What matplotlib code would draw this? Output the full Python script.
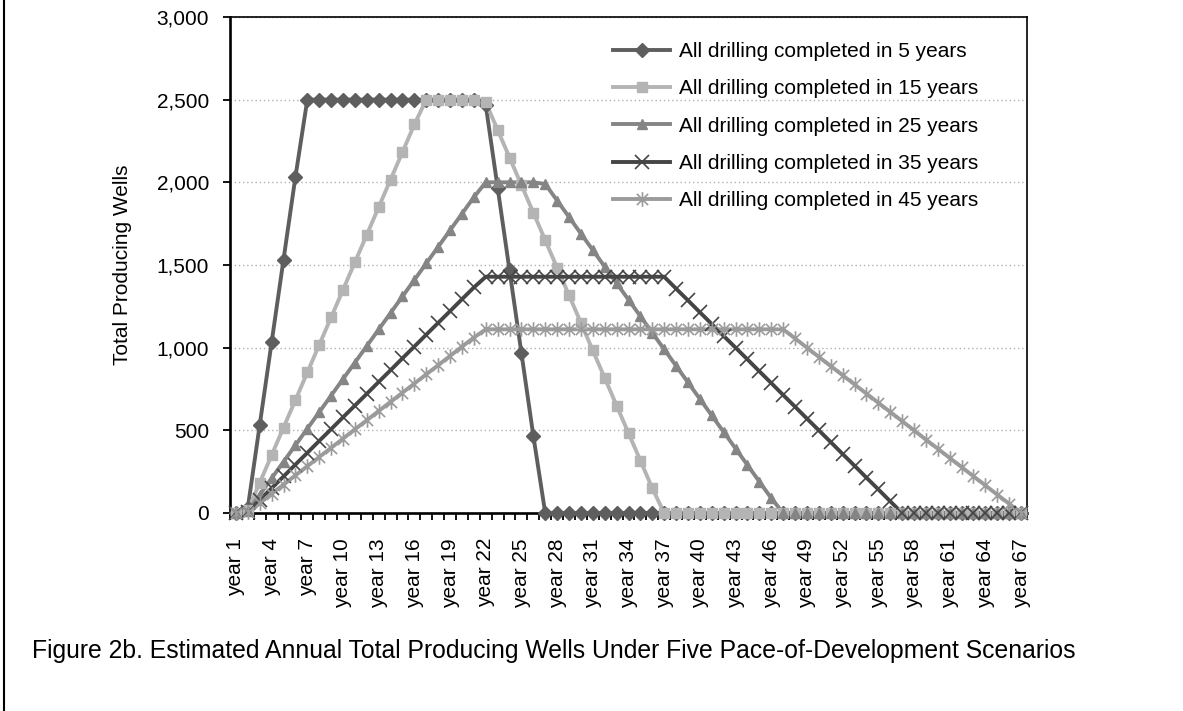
import matplotlib
matplotlib.use("Agg")
import matplotlib.pyplot as plt
from matplotlib.lines import Line2D
from matplotlib.path import Path
from matplotlib.ticker import FuncFormatter, FixedLocator

plt.rcParams['font.family'] = ['Liberation Sans', 'DejaVu Sans']

# data
years = ["year %d" % i for i in range(1, 68)]

five = [0, 33, 533, 1033, 1533, 2033] + [2500] * 15 + \
    [2467, 1967, 1467, 967, 467] + [0] * 41
fifteen = [0, 17, 183, 350, 517, 683, 850, 1017, 1183, 1350, 1517, 1683,
           1850, 2017, 2183, 2350] + [2500] * 5 + \
    [2483, 2317, 2150, 1983, 1817, 1650, 1483, 1317, 1150, 983, 817, 650,
     483, 317, 150] + [0] * 31
twentyfive = [0, 10, 110, 210, 310, 410, 510, 610, 710, 810, 910, 1010,
              1110, 1210, 1310, 1410, 1510, 1610, 1710, 1810, 1910] + \
    [2000] * 5 + \
    [1990, 1890, 1790, 1690, 1590, 1490, 1390, 1290, 1190, 1090, 990, 890,
     790, 690, 590, 490, 390, 290, 190, 90] + [0] * 21
thirtyfive = [0, 7, 79, 150, 221, 293, 364, 436, 507, 579, 650, 721, 793,
              864, 936, 1007, 1079, 1150, 1221, 1293, 1364] + [1429] * 16 + \
    [1357, 1286, 1214, 1143, 1071, 1000, 929, 857, 786, 714, 643, 571, 500,
     429, 357, 286, 214, 143, 71] + [0] * 11
fortyfive = [0, 6, 61, 117, 172, 228, 283, 339, 394, 450, 506, 561, 617,
             672, 728, 783, 839, 894, 950, 1006, 1061] + [1111] * 26 + \
    [1056, 1000, 944, 889, 833, 778, 722, 667, 611, 556, 500, 444, 389, 333,
     278, 222, 167, 111, 56] + [0]

labels = ["All drilling completed in 5 years",
          "All drilling completed in 15 years",
          "All drilling completed in 25 years",
          "All drilling completed in 35 years",
          "All drilling completed in 45 years"]

# excel style star: an x with a vertical stroke
star = Path([(-1, -1), (1, 1), (-1, 1), (1, -1), (0, -1.3), (0, 1.3)],
            [Path.MOVETO, Path.LINETO, Path.MOVETO, Path.LINETO,
             Path.MOVETO, Path.LINETO])

series = [five, fifteen, twentyfive, thirtyfive, fortyfive]
colors = ['#5e5e5e', '#b4b4b4', '#858585', '#454545', '#9b9b9b']
markers = ['D', 's', '^', 'x', star]
msizes = [7.4, 7.0, 7.8, 10.0, 10.5]
mew = [1, 1, 1, 1.2, 1.2]
filled = [True, True, True, False, False]

fig = plt.figure(figsize=(11.83, 7.11), dpi=100)
ax = fig.add_axes([230 / 1183, 1 - 513 / 711, 797 / 1183, 496 / 711])

x = list(range(len(years)))
# lines first, then markers on top (like excel does)
for s, c in zip(series, colors):
    ax.plot(x, s, color=c, lw=2.8, zorder=2, solid_joinstyle='round')
for s, c, m, ms, w, f in zip(series, colors, markers, msizes, mew, filled):
    ax.plot(x, s, ls='none', marker=m, ms=ms, mfc=c if f else 'none',
            mec=c, mew=w, zorder=3, clip_on=False)

ax.set_xlim(-0.5, len(years) - 0.5)
ax.set_ylim(0, 3000)

# y axis
ax.set_yticks(range(0, 3001, 500))
ax.yaxis.set_major_formatter(FuncFormatter(lambda v, p: "{:,.0f}".format(v)))
ax.tick_params(axis='y', direction='out', length=5, width=1.3, pad=10,
               labelsize=15)
ax.yaxis.grid(True, linestyle=(0, (1, 2)), color='#b0b0b0', lw=1)
ax.set_axisbelow(True)
ax.set_ylabel("Total Producing Wells", fontsize=15)
ax.yaxis.set_label_coords(-0.123, 0.5)

# x axis: tick marks between categories, labels every 3rd year
ax.xaxis.set_major_locator(FixedLocator([i - 0.5 for i in range(len(years) + 1)]))
ax.xaxis.set_major_formatter(FuncFormatter(lambda v, p: ""))
ax.xaxis.set_minor_locator(FixedLocator(x[::3]))
ax.set_xticklabels(years[::3], minor=True, rotation=90)
ax.tick_params(axis='x', which='major', direction='out', length=5, width=1.3)
ax.tick_params(axis='x', which='minor', length=0, pad=18, labelsize=15)

for side in ['left', 'bottom']:
    ax.spines[side].set_linewidth(1.9)
for side in ['top', 'right']:
    ax.spines[side].set_linewidth(1.2)

handles = [Line2D([], [], color=c, lw=2.8, marker=m, ms=ms,
                  mfc=c if f else 'none', mec=c, mew=w)
           for c, m, ms, w, f in zip(colors, markers, msizes, mew, filled)]
fig.legend(handles=handles, labels=labels, loc='upper left',
           bbox_to_anchor=(613 / 1183, 1 - 42 / 711), frameon=False,
           fontsize=15, handlelength=2.75, handletextpad=0.4,
           borderpad=0, borderaxespad=0, labelspacing=0.88)

fig.text(32 / 1183, 1 - 651 / 711,
         "Figure 2b. Estimated Annual Total Producing Wells Under Five "
         "Pace-of-Development Scenarios", fontsize=17.8, va='center')

# left edge of the surrounding box
fig.add_artist(Line2D([3.5 / 1183, 3.5 / 1183], [0, 1],
                      transform=fig.transFigure, color='black', lw=1.5))

fig.savefig("out.png", dpi=100)
